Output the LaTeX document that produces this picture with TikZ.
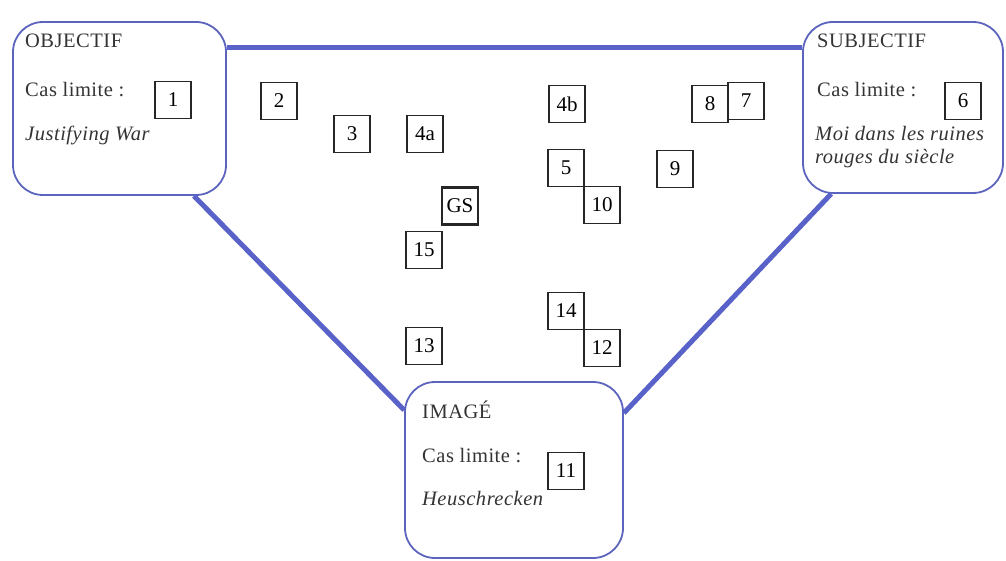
\documentclass[tikz,border=0pt]{standalone}
\usepackage{fontspec}
\setmainfont{Liberation Serif}
\newfontfamily\widefont[LetterSpace=2.5]{Liberation Serif}
\usetikzlibrary{calc}
\definecolor{lineblue}{RGB}{88,98,200}
\definecolor{boxblue}{RGB}{92,100,190}
\tikzset{
  bigbox/.style={draw=boxblue, line width=1.8pt, rounded corners=30pt, inner sep=0pt},
  numbox/.style={draw=black!85, line width=1.1pt, minimum width=36pt, minimum height=37pt, inner sep=0pt, font=\fontsize{21}{22}\selectfont},
  gsbox/.style={numbox, line width=2.8pt},
  boxtext/.style={anchor=base west, inner sep=0pt, font=\widefont\fontsize{20.5}{23}\selectfont, text=black!80},
  boxital/.style={boxtext, font=\widefont\fontsize{20.5}{23}\selectfont\itshape, align=left},
  link/.style={draw=lineblue, line width=5pt}
}
\begin{document}
\begin{tikzpicture}[x=1pt,y=-1pt]
\useasboundingbox (0,0) rectangle (1006,561);
% main boxes
\node[bigbox, minimum width=213pt, minimum height=173pt] (obj) at (119.5,108.5) {};
\node[bigbox, minimum width=200pt, minimum height=171pt] (subj) at (903,107.5) {};
\node[bigbox, minimum width=218pt, minimum height=176pt] (img) at (514,470) {};
% connectors
\draw[link] (obj.east |- 0,48) coordinate (o1) -- (subj.west |- o1);
\draw[link] ($(obj.south east)+(-33,0)$) -- ($(img.west)+(0,-60)$);
\draw[link] ($(subj.south west)+(29,0)$) -- ($(img.east)+(0,-57)$);
% texts
\node[boxtext] (objt) at (25,48) {OBJECTIF};
\node[boxtext] (objc) at (25,97) {Cas limite :};
\node[boxital] (objw) at (25,141) {Justifying War};
\node[boxtext] (subt) at (817,48) {SUBJECTIF};
\node[boxtext] (subc) at (817,97) {Cas limite :};
\node[boxital, anchor=north west] (subw) at (815,126) {Moi dans les ruines\\rouges du siècle};
\node[boxtext] (imgt) at (422,418) {IMAGÉ};
\node[boxtext] (imgc) at (422,462) {Cas limite :};
\node[boxital] (imgw) at (422,505) {Heuschrecken};
% number boxes
\node[numbox] (n1) at (173,100) {1};
\node[numbox] (n2) at (279,101) {2};
\node[numbox] (n3) at (352,134) {3};
\node[numbox] (n4a) at (425,134) {4a};
\node[numbox] (n4b) at (567,104) {4b};
\node[numbox] (n5) at (566,168) {5};
\node[numbox] (n10) at (602,205) {10};
\node[gsbox] (gs) at (460,206) {GS};
\node[numbox] (n15) at (424,250) {15};
\node[numbox] (n13) at (424,346) {13};
\node[numbox] (n14) at (566,311) {14};
\node[numbox] (n12) at (602,348) {12};
\node[numbox] (n8) at (710,104) {8};
\node[numbox] (n7) at (746,101) {7};
\node[numbox] (n9) at (675,169) {9};
\node[numbox] (n6) at (963,101) {6};
\node[numbox] (n11) at (566,471) {11};
\end{tikzpicture}
\end{document}
